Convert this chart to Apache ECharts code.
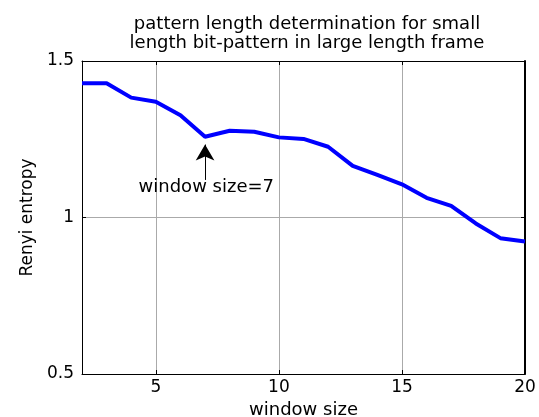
<!DOCTYPE html>
<html>
<head>
<meta charset="utf-8">
<script src="https://cdn.jsdelivr.net/npm/echarts@6/dist/echarts.min.js"></script>
<style>html,body{margin:0;padding:0;background:#fff}#c{width:539px;height:417px}</style>
</head>
<body>
<div id="c"></div>
<script>
const windowSizes = [2,3,4,5,6,7,8,9,10,11,12,13,14,15,16,17,18,19,20];
const renyiEntropy = [1.429,1.429,1.383,1.370,1.327,1.258,1.277,1.274,1.256,1.251,1.226,1.165,1.136,1.106,1.063,1.037,0.981,0.934,0.923];
const xTicks = [5,10,15,20];
const titleText = 'pattern length determination for small\nlength bit-pattern in large length frame';
const annotationText = 'window size=7';

const FONT = 'DejaVu Sans';
const chart = echarts.init(document.getElementById('c'), null, {renderer:'canvas'});
const seriesData = windowSizes.map((x,i)=>[x, renyiEntropy[i]]);
chart.setOption({
  animation:false,
  backgroundColor:'#fff',
  title:{text:titleText,left:302,textAlign:'center',top:10,
    textStyle:{fontFamily:FONT,fontSize:18,fontWeight:'normal',color:'#000',lineHeight:19}},
  grid:{left:82,right:14,top:61,bottom:43,containLabel:false,outerBoundsMode:'none'},
  xAxis:[{type:'value',min:2,max:20,position:'bottom',
    name:'window size',nameLocation:'middle',nameGap:25,
    nameTextStyle:{fontFamily:FONT,fontSize:18,color:'#000'},
    axisLine:{show:true,onZero:false,lineStyle:{color:'#000',width:1}},
    axisTick:{show:true,inside:true,length:4,customValues:xTicks,lineStyle:{color:'#000'}},
    axisLabel:{show:true,customValues:xTicks,margin:5,fontFamily:FONT,fontSize:17,color:'#000'},
    splitLine:{show:true,lineStyle:{color:'#aaaaaa',width:1}}},
   {type:'value',min:2,max:20,position:'top',
    axisLine:{show:true,onZero:false,lineStyle:{color:'#000',width:1}},
    axisTick:{show:true,inside:true,length:4,customValues:xTicks,lineStyle:{color:'#000'}},
    axisLabel:{show:false},splitLine:{show:false}}],
  yAxis:[{type:'value',min:0.5,max:1.5,interval:0.5,position:'left',
    name:'Renyi entropy',nameLocation:'middle',nameGap:44,nameRotate:90,
    nameTextStyle:{fontFamily:FONT,fontSize:17,color:'#000'},
    axisLine:{show:true,onZero:false,lineStyle:{color:'#000',width:1}},
    axisTick:{show:true,inside:true,length:4,lineStyle:{color:'#000'}},
    axisLabel:{show:true,margin:8,fontFamily:FONT,fontSize:17,color:'#000'},
    splitLine:{show:true,lineStyle:{color:'#aaaaaa',width:1}}},
   {type:'value',min:0.5,max:1.5,interval:0.5,position:'right',
    axisLine:{show:true,onZero:false,lineStyle:{color:'#000',width:2}},
    axisTick:{show:true,inside:true,length:4,lineStyle:{color:'#000'}},
    axisLabel:{show:false},splitLine:{show:false}}],
  series:[{type:'line',data:seriesData,showSymbol:false,symbol:'none',
    lineStyle:{color:'#0000ff',width:4},
    markLine:{silent:true,animation:false,
      lineStyle:{color:'#000',width:1,type:'solid'},
      label:{show:false},symbolSize:[14,16],
      data:[[{coord:[7,1.12],symbol:'none'},{coord:[7,1.233],symbol:'arrow'}]]},
    markPoint:{silent:true,symbol:'rect',symbolSize:0,
      data:[{coord:[7.05,1.095]}],
      label:{show:true,position:'inside',formatter:annotationText,
        fontFamily:FONT,fontSize:18,color:'#000'}}
  }]
});
</script>
</body>
</html>
